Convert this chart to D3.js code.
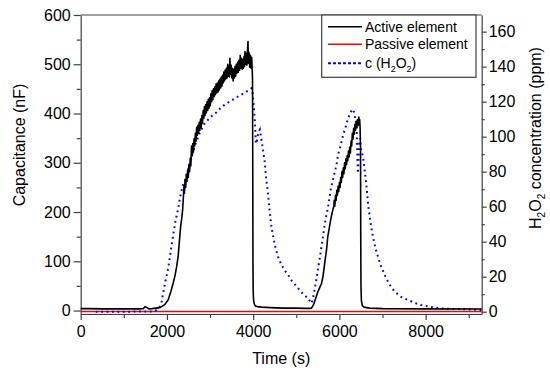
<!DOCTYPE html>
<html>
<head>
<meta charset="utf-8">
<script src="https://cdn.jsdelivr.net/npm/d3@7"></script>
<style>
  body { margin: 0; background: #fff; }
  text { font-family: "Liberation Sans", Arial, sans-serif; fill: #000; }
</style>
</head>
<body>
<div id="chart-container"></div>
<script>
// Active element capacitance (nF): [time s, value]
const activeTime = [0, 200, 500, 1000, 1400, 1450, 1500, 1540, 1580, 1650, 1750, 1838, 1950, 2030, 2090, 2146, 2190, 2225, 2260, 2285, 2317, 2340, 2364, 2380, 2395, 2405, 2420, 2435, 2450, 2465, 2480, 2495, 2510, 2525, 2540, 2555, 2570, 2585, 2600, 2615, 2630, 2645, 2660, 2675, 2690, 2705, 2720, 2735, 2750, 2765, 2780, 2795, 2810, 2825, 2840, 2855, 2870, 2885, 2900, 2915, 2930, 2945, 2960, 2975, 2990, 3005, 3020, 3035, 3050, 3065, 3080, 3095, 3110, 3125, 3140, 3155, 3170, 3185, 3200, 3215, 3230, 3245, 3260, 3275, 3290, 3305, 3320, 3335, 3350, 3365, 3380, 3395, 3410, 3420, 3435, 3450, 3460, 3475, 3490, 3505, 3520, 3535, 3550, 3565, 3580, 3595, 3610, 3625, 3640, 3655, 3670, 3685, 3700, 3715, 3730, 3745, 3760, 3775, 3790, 3800, 3810, 3825, 3840, 3855, 3870, 3880, 3890, 3905, 3920, 3935, 3950, 3965, 3978, 3985, 3990, 3995, 4000, 4010, 4030, 4060, 4100, 4200, 4400, 4700, 5000, 5200, 5300, 5353, 5400, 5450, 5500, 5550, 5585, 5620, 5650, 5680, 5700, 5730, 5760, 5777, 5800, 5830, 5850, 5870, 5880, 5893, 5910, 5925, 5940, 5955, 5970, 5985, 6000, 6015, 6030, 6045, 6060, 6075, 6090, 6105, 6120, 6135, 6150, 6165, 6180, 6195, 6210, 6225, 6240, 6255, 6270, 6285, 6300, 6315, 6330, 6345, 6360, 6375, 6390, 6405, 6420, 6435, 6450, 6462, 6470, 6480, 6490, 6495, 6500, 6510, 6530, 6570, 6700, 7000, 8000, 9300];
const activeValues = [4, 4, 3.5, 3.5, 3.5, 4, 8, 6, 3.5, 4, 5, 6, 12, 22, 38, 56, 72, 89, 110, 137, 170, 185, 204,
  228, 254, 238, 266, 250, 276, 262, 284, 270, 296,
  282, 309, 294, 334, 314, 339, 322, 349, 334, 360,
  344, 372, 356, 376, 360, 382, 366, 389, 372, 396,
  380, 406, 390, 414, 396, 418, 401, 424, 406, 429,
  411, 432, 416, 440, 424, 446, 428, 450, 434, 454,
  438, 460, 442, 462, 444, 466, 448, 470, 452, 474,
  456, 478, 462, 484, 466, 488, 470, 492, 472, 500,
  476, 496, 474, 512, 480, 498, 472, 492, 466, 490,
  472, 496, 476, 500, 482, 504, 484, 508, 488, 518,
  492, 512, 490, 510, 492, 516, 496, 526, 500, 522,
  498, 532, 546, 502, 524, 494, 518, 492, 514, 488,
  470, 300, 100, 40, 20, 12, 9, 8, 7, 6, 5, 5, 4.5, 4.5, 5, 12, 25, 38, 48, 55, 70, 90, 110, 122, 150, 165, 174, 185, 198, 205, 212, 224, 212, 234, 224, 244, 234, 252, 242, 260, 250, 270, 260, 282, 270, 290, 278, 300, 288, 308, 296, 314, 304, 324, 312, 332, 320, 344, 334, 360, 348, 370, 358, 378, 366, 384, 372, 388, 376, 393, 380, 388, 370, 330, 150, 50, 20, 10, 7, 5, 4, 3.5, 3];

// Passive element capacitance (nF)
const passiveTime = [0, 9300];
const passiveValues = [-2, -2];

// H2O2 concentration (ppm)
const h2o2Time = [350, 1000, 1700, 1760, 1838, 1880, 1915, 1970, 2030, 2090, 2146, 2200, 2262, 2310, 2364, 2417, 2475, 2533, 2600, 2665, 2760, 2858, 3000, 3152, 3270, 3383, 3520, 3653, 3800, 3900, 3963, 3985, 4000, 4020, 4040, 4062, 4090, 4116, 4155, 4194, 4230, 4271, 4300, 4333, 4380, 4426, 4503, 4580, 4658, 4735, 4811, 4900, 5043, 5160, 5274, 5320, 5353, 5390, 5430, 5470, 5507, 5565, 5623, 5680, 5739, 5800, 5855, 5933, 5970, 6009, 6086, 6150, 6202, 6260, 6303, 6340, 6370, 6396, 6410, 6420, 6430, 6445, 6460, 6480, 6500, 6550, 6590, 6627, 6670, 6743, 6800, 6859, 6950, 7051, 7150, 7283, 7430, 7592, 7750, 7900, 8150, 8366, 8600, 8830, 9000, 9300];
const h2o2Values = [0, 0, 0.2, 1, 3, 6, 11, 18, 25, 35, 44, 52, 59, 66, 72, 75, 80, 85, 91, 96, 102, 107, 111, 114, 117, 119, 121, 123, 125, 126.5, 127.7, 126, 121, 116, 108, 96, 98, 102, 104, 98, 92, 85, 76, 70, 58, 48, 38, 31, 26.7, 23.5, 21, 17.5, 13.4, 10, 7.7, 6, 4.8, 8, 13.4, 19, 24.8, 34, 43.8, 53, 60, 70, 76, 84, 90, 93, 101, 106, 110.5, 114, 115.7, 114, 110, 107, 95, 85, 79, 88, 97, 99, 93, 88, 80, 72, 60, 47.7, 40, 34.3, 27, 21, 16, 11.4, 8.5, 6.7, 5, 3.8, 2.6, 1.9, 1.6, 1.5, 1.3, 1];

const xTicks = [0, 2000, 4000, 6000, 8000];
const yLeftTicks = [0, 100, 200, 300, 400, 500, 600];
const yRightTicks = [0, 20, 40, 60, 80, 100, 120, 140, 160];

const legendItems = ['Active element', 'Passive element', 'c (H2O2)'];

const createVisualization = () => {
  const fullWidth = 550;
  const fullHeight = 375;
  const margin = { top: 15, right: 68.3, bottom: 61, left: 80.7 };
  const width = fullWidth - margin.left - margin.right;
  const height = fullHeight - margin.top - margin.bottom;
  const axisColor = '#404040';

  const svg = d3
    .select('#chart-container')
    .append('svg')
    .attr('width', fullWidth)
    .attr('height', fullHeight)
    .append('g')
    .attr('transform', `translate(${margin.left}, ${margin.top})`);

  // Scales
  const xScale = d3.scaleLinear().domain([0, 9300]).range([0, width]);
  const yLeft = d3.scaleLinear().domain([-7, 600]).range([height, 0]);
  const yRight = d3.scaleLinear().domain([-1.3, 169.5]).range([height, 0]);

  const styleAxis = g => {
    g.selectAll('path, line').attr('stroke', axisColor).attr('stroke-width', 1.2);
    g.selectAll('text').style('font-size', '16px').attr('fill', '#000');
  };

  // Minor ticks first
  svg.append('g')
    .attr('transform', `translate(0, ${height})`)
    .call(d3.axisBottom(xScale).tickValues(d3.range(1000, 9300, 2000)).tickSize(4).tickFormat(''))
    .call(g => g.select('.domain').remove())
    .call(styleAxis);
  svg.append('g')
    .call(d3.axisLeft(yLeft).tickValues(d3.range(50, 600, 100)).tickSize(4).tickFormat(''))
    .call(g => g.select('.domain').remove())
    .call(styleAxis);
  svg.append('g')
    .attr('transform', `translate(${width}, 0)`)
    .call(d3.axisRight(yRight).tickValues(d3.range(10, 170, 20)).tickSize(3).tickFormat(''))
    .call(g => g.select('.domain').remove())
    .call(styleAxis);

  // Major axes
  svg.append('g')
    .attr('transform', `translate(0, ${height})`)
    .call(d3.axisBottom(xScale).tickValues(xTicks).tickSize(6).tickSizeOuter(0).tickPadding(6).tickFormat(d3.format('d')))
    .call(styleAxis);
  svg.append('g')
    .call(d3.axisLeft(yLeft).tickValues(yLeftTicks).tickSize(7).tickSizeOuter(0).tickPadding(3))
    .call(styleAxis);
  svg.append('g')
    .attr('transform', `translate(${width}, 0)`)
    .call(d3.axisRight(yRight).tickValues(yRightTicks).tickSize(5).tickSizeOuter(0).tickPadding(2))
    .call(styleAxis);

  // Top frame line
  svg.append('line')
    .attr('x1', 0).attr('x2', width).attr('y1', 0).attr('y2', 0)
    .attr('stroke', axisColor).attr('stroke-width', 1.2);

  // Lines
  const leftLine = d3.line().x(d => xScale(d[0])).y(d => yLeft(d[1]));
  const rightLine = d3.line().x(d => xScale(d[0])).y(d => yRight(d[1]));

  svg.append('path')
    .datum(d3.zip(passiveTime, passiveValues))
    .attr('d', leftLine)
    .attr('fill', 'none').attr('stroke', '#ff0000').attr('stroke-width', 1.6);

  svg.append('path')
    .datum(d3.zip(h2o2Time, h2o2Values))
    .attr('d', rightLine)
    .attr('fill', 'none').attr('stroke', '#0000ff').attr('stroke-width', 2)
    .attr('stroke-dasharray', '1.8,3.6');

  svg.append('path')
    .datum(d3.zip(activeTime, activeValues))
    .attr('d', leftLine)
    .attr('fill', 'none').attr('stroke', '#000').attr('stroke-width', 1.6)
    .attr('stroke-linejoin', 'round');

  // Legend
  const legend = svg.append('g').attr('transform', `translate(${321.7 - margin.left}, 0)`);
  legend.append('rect')
    .attr('width', 154.3).attr('height', 62.3)
    .attr('fill', '#fff').attr('stroke', axisColor).attr('stroke-width', 1.2);
  const rows = [11.7, 29.3, 48.3];
  const styles = [
    { color: '#000', dash: null, w: 1.6 },
    { color: '#ff0000', dash: null, w: 1.6 },
    { color: '#0000ff', dash: '3,2', w: 2 }
  ];
  legendItems.forEach((name, i) => {
    legend.append('line')
      .attr('x1', 6.3).attr('x2', 40.3).attr('y1', rows[i]).attr('y2', rows[i])
      .attr('stroke', styles[i].color).attr('stroke-width', styles[i].w)
      .attr('stroke-dasharray', styles[i].dash);
    const t = legend.append('text')
      .attr('x', 43.3).attr('y', rows[i] + 5)
      .style('font-size', '14px');
    if (name === 'c (H2O2)') {
      t.append('tspan').text('c (H');
      t.append('tspan').attr('dy', 4).style('font-size', '9px').text('2');
      t.append('tspan').attr('dy', -4).text('O');
      t.append('tspan').attr('dy', 4).style('font-size', '9px').text('2');
      t.append('tspan').attr('dy', -4).text(')');
    } else {
      t.text(name);
    }
  });

  // Axis titles
  svg.append('text')
    .attr('x', width / 2).attr('y', 364 - margin.top)
    .attr('text-anchor', 'middle')
    .style('font-size', '16px')
    .text('Time (s)');

  svg.append('text')
    .attr('transform', `translate(${25 - margin.left}, ${145 - margin.top}) rotate(-90)`)
    .attr('text-anchor', 'middle')
    .style('font-size', '16px')
    .text('Capacitance (nF)');

  const rt = svg.append('text')
    .attr('transform', `translate(${541 - margin.left}, ${138 - margin.top}) rotate(-90)`)
    .attr('text-anchor', 'middle')
    .style('font-size', '16px');
  rt.append('tspan').text('H');
  rt.append('tspan').attr('dy', 4).style('font-size', '10px').text('2');
  rt.append('tspan').attr('dy', -4).text('O');
  rt.append('tspan').attr('dy', 4).style('font-size', '10px').text('2');
  rt.append('tspan').attr('dy', -4).text(' concentration (ppm)');
};

createVisualization();
</script>
</body>
</html>
